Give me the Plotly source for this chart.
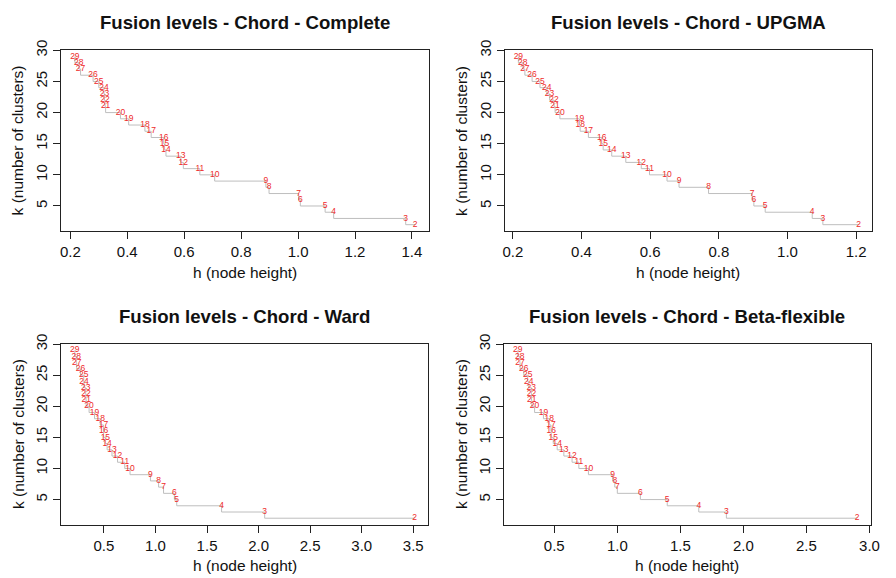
import plotly.graph_objects as go

W, H = 896, 578

k_values = list(range(29, 1, -1))

h_complete = [0.216, 0.230, 0.236, 0.280, 0.300, 0.318, 0.320, 0.322, 0.324, 0.376,
              0.405, 0.462, 0.484, 0.528, 0.531, 0.536, 0.588, 0.597, 0.655, 0.707,
              0.887, 0.898, 1.002, 1.008, 1.095, 1.125, 1.378, 1.411]
h_upgma = [0.216, 0.229, 0.235, 0.256, 0.279, 0.299, 0.307, 0.320, 0.323, 0.337,
           0.394, 0.396, 0.420, 0.459, 0.463, 0.488, 0.529, 0.574, 0.598, 0.649,
           0.684, 0.770, 0.897, 0.902, 0.935, 1.072, 1.103, 1.207]
h_ward = [0.218, 0.232, 0.236, 0.273, 0.304, 0.306, 0.323, 0.326, 0.328, 0.356,
          0.409, 0.464, 0.495, 0.497, 0.514, 0.531, 0.578, 0.632, 0.702, 0.753,
          0.951, 1.030, 1.078, 1.183, 1.206, 1.641, 2.059, 3.513]
h_beta = [0.211, 0.227, 0.229, 0.258, 0.289, 0.297, 0.318, 0.320, 0.322, 0.344,
          0.414, 0.461, 0.474, 0.476, 0.492, 0.523, 0.576, 0.641, 0.695, 0.771,
          0.963, 0.980, 1.000, 1.183, 1.396, 1.646, 1.865, 2.902]

titles = ["Fusion levels - Chord - Complete", "Fusion levels - Chord - UPGMA",
          "Fusion levels - Chord - Ward", "Fusion levels - Chord - Beta-flexible"]
x_dticks = [0.2, 0.2, 0.5, 0.5]
y_ticks = [5, 10, 15, 20, 25, 30]
x_title = "h (node height)"
y_title = "k (number of clusters)"

series = [h_complete, h_upgma, h_ward, h_beta]

# plot boxes in pixels (left, right, top, bottom)
boxes = [(60, 432, 40.5, 225.3), (509, 881, 40.5, 225.3),
         (60, 431.5, 339.5, 524), (508.5, 879.5, 339.5, 524)]

FONT = "Liberation Sans, Arial, Helvetica, sans-serif"
fig = go.Figure()
annotations = []
layout = {}

for i, (h, title, dt, box) in enumerate(zip(series, titles, x_dticks, boxes)):
    n = "" if i == 0 else str(i + 1)
    xa, ya = "x" + n, "y" + n
    fig.add_trace(go.Scatter(x=h, y=k_values, mode="lines", line=dict(color="#BEBEBE", width=1, shape="vh"),
                             xaxis=xa, yaxis=ya, showlegend=False, hoverinfo="skip"))
    fig.add_trace(go.Scatter(x=h, y=k_values, mode="text", text=[str(k) for k in k_values],
                             textposition="middle center",
                             textfont=dict(color="#EE2A2A", size=8.5, family=FONT),
                             xaxis=xa, yaxis=ya, showlegend=False))
    l, r, t, b = box
    xmin, xmax = min(h), max(h)
    dx = (xmax - xmin) * 0.04
    ymin, ymax = min(k_values), max(k_values)
    dy = (ymax - ymin) * 0.04
    layout["xaxis" + n] = dict(domain=[l / W, r / W], anchor=ya, range=[xmin - dx, xmax + dx],
                               tick0=0, dtick=dt, tickformat=".1f", showgrid=False, zeroline=False,
                               showline=True, mirror=True, linecolor="#222", linewidth=1,
                               ticks="outside", ticklen=7, tickcolor="#222",
                               tickfont=dict(size=15, family=FONT, color="#111"))
    layout["yaxis" + n] = dict(domain=[1 - b / H, 1 - t / H], anchor=xa, range=[ymin - dy, ymax + dy],
                               tickvals=y_ticks, tickangle=-90, showgrid=False, zeroline=False,
                               showline=True, mirror=True, linecolor="#222", linewidth=1,
                               ticks="outside", ticklen=7, tickcolor="#222",
                               tickfont=dict(size=15, family=FONT, color="#111"))
    cx = (l + r) / 2
    cy = (t + b) / 2
    annotations.append(dict(text="<b>" + title + "</b>", x=cx / W, y=1 - (t - 27.5) / H,
                            xref="paper", yref="paper", showarrow=False, xanchor="center", yanchor="middle",
                            font=dict(size=18.6, family=FONT, color="#111")))
    annotations.append(dict(text=x_title, x=cx / W, y=1 - (b + 41.5) / H, xref="paper", yref="paper",
                            showarrow=False, xanchor="center", yanchor="middle",
                            font=dict(size=15.5, family=FONT, color="#111")))
    annotations.append(dict(text=y_title, x=(l - 44) / W, y=1 - cy / H, xref="paper", yref="paper",
                            showarrow=False, xanchor="center", yanchor="middle", textangle=-90,
                            font=dict(size=15.5, family=FONT, color="#111")))

fig.update_layout(**layout)
fig.update_layout(width=W, height=H, margin=dict(l=0, r=0, t=0, b=0),
                  paper_bgcolor="white", plot_bgcolor="white", annotations=annotations,
                  font=dict(family=FONT))
fig.write_html("out.html")
